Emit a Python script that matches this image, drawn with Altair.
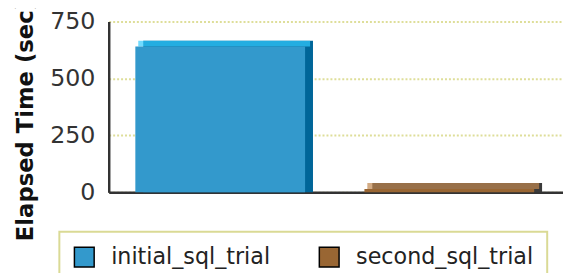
import altair as alt
import pandas as pd

trials = ["initial_sql_trial", "second_sql_trial"]
elapsed = [640, 15]
y_ticks = [0, 250, 500, 750]

front_colors = ["#3399CC", "#996633"]
top_colors = ["#33CCFF", "#C08850"]
side_colors = ["#006699", "#3A3A3A"]

df = pd.DataFrame({"trial": trials, "elapsed": elapsed})

FONT = "DejaVu Sans"

x_enc = alt.X("trial:N", sort=trials,
              scale=alt.Scale(paddingInner=0.259, paddingOuter=0.121, align=0.48),
              axis=alt.Axis(labels=False, ticks=False, title=None, grid=False,
                            domainColor="#333333", domainWidth=2.5))
y_scale = alt.Scale(domain=[0, 750], nice=False)
y_enc = alt.Y("elapsed:Q", scale=y_scale, stack=None,
              axis=alt.Axis(values=y_ticks, ticks=False, tickSize=0, labelPadding=14,
                            labelFont=FONT, labelFontSize=24, labelColor="#333333",
                            domainColor="#333333", domainWidth=2.5,
                            grid=True, gridColor="#DEDE99", gridDash=[2, 2], gridWidth=2,
                            title="Elapsed Time (sec)", titleFont=FONT, titleFontSize=23,
                            titleFontWeight="bold", titleColor="#111111",
                            titleAngle=270, titleAlign="left", titleBaseline="alphabetic",
                            titleX=-77, titleY=222))

side = alt.Chart(df).mark_bar(xOffset=8, yOffset=-6, y2Offset=6).encode(
    x=x_enc, y=y_enc,
    color=alt.Color("trial:N", scale=alt.Scale(domain=trials, range=side_colors), legend=None),
)
top = alt.Chart(df).mark_tick(thickness=6, size=174, xOffset=4, yOffset=-3).encode(
    x=alt.X("trial:N", sort=trials), y=alt.Y("elapsed:Q"),
    color=alt.Color("trial:N", scale=alt.Scale(domain=trials, range=top_colors), legend=None),
)
front = alt.Chart(df).mark_bar().encode(
    x=alt.X("trial:N", sort=trials), y=alt.Y("elapsed:Q"),
    color=alt.Color("trial:N", scale=alt.Scale(domain=trials, range=front_colors),
                    legend=alt.Legend(title=None, orient="none", legendX=-50, legendY=213,
                                      direction="horizontal", columns=2,
                                      symbolType="square", symbolSize=400,
                                      symbolStrokeColor="black", symbolStrokeWidth=1.5,
                                      symbolOpacity=1,
                                      labelFont=FONT, labelFontSize=22.5, labelColor="#222222",
                                      labelOffset=16, columnPadding=46, padding=14,
                                      strokeColor="#DADA95", fillColor="white",
                                      labelLimit=400)),
)

chart = alt.layer(side, top, front).resolve_scale(color="independent").properties(
    width=460, height=173,
    autosize=alt.AutoSizeParams(type="none"),
    padding={"left": 102, "top": 12, "right": 0, "bottom": 80},
).configure_view(stroke=None).configure_legend(strokeWidth=2)

chart.save("out.html", embed_options={"renderer": "svg", "actions": False})
